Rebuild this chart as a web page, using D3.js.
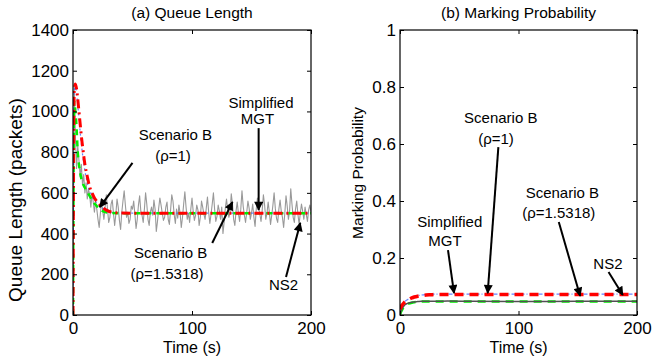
<!DOCTYPE html>
<html>
<head>
<meta charset="utf-8">
<script src="https://cdn.jsdelivr.net/npm/d3@7"></script>
<style>
  html, body { margin: 0; padding: 0; background: #fff; }
  svg { display: block; font-family: "Liberation Sans", Arial, sans-serif; }
</style>
</head>
<body>
<div id="chart"></div>
<script>
// ---- data ----
const modelTime = [0, 1, 2, 3, 4, 5, 6, 7, 8, 10, 12, 14, 16, 18, 20, 22, 25, 28, 32, 40, 60, 100, 150, 200]
const queueRho1 = [0, 1100, 1135, 1110, 1060, 1000, 940, 880, 830, 740, 680, 630, 600, 575, 558, 545, 528, 515, 506, 501, 500, 500, 500, 500]
const queueRho15 = [0, 1050, 1000, 920, 800, 740, 700, 670, 650, 625, 605, 585, 565, 548, 535, 522, 510, 504, 501, 500, 500, 500, 500, 500]
const queueMGT = [0, 1100, 1120, 1090, 1030, 970, 900, 840, 790, 710, 650, 610, 585, 565, 550, 538, 524, 512, 505, 501, 500, 500, 500, 500]

// NS2 queue sampled once per second, t = 0..200
const ns2Queue = [
  0, 1120, 880, 720, 830, 760, 680, 740, 640, 690, 600, 650, 570, 620, 590, 530, 600, 555, 505, 560, 520, 470,
  430, 500, 555, 510, 470, 530, 590, 520, 455, 480,
  545, 565, 500, 440, 495, 570, 530, 465, 420, 505,
  560, 610, 540, 480, 505, 450, 470, 535, 520, 560,
  495, 425, 470, 540, 585, 510, 490, 455, 520, 600,
  545, 470, 440, 505, 530, 490, 565, 520, 410, 460,
  525, 575, 540, 500, 465, 480, 530, 555, 470, 445,
  515, 590, 560, 495, 450, 520, 475, 540, 500, 430,
  480, 545, 605, 530, 470, 500, 455, 520, 575, 510,
  465, 490, 540, 515, 440, 480, 560, 530, 495, 470,
  525, 580, 505, 450, 495, 545, 600, 520, 460, 485,
  540, 510, 470, 530, 400, 455, 525, 570, 515, 480,
  505, 595, 545, 470, 440, 510, 555, 500, 460, 520,
  610, 535, 490, 455, 505, 560, 525, 470, 500, 545,
  480, 435, 520, 575, 530, 495, 460, 515, 590, 540,
  470, 500, 555, 505, 445, 490, 540, 600, 525, 475,
  455, 520, 565, 510, 480, 430, 500, 585, 535, 470,
  510, 620, 545, 480, 455, 520, 560, 495, 445, 500,
  545, 510, 470, 530, 495, 460, 515, 540, 505
]

const probTime = [0, 1, 2, 3, 4, 6, 8, 10, 12, 15, 18, 22, 26, 30, 40, 60, 100, 150, 200]
const probRho1 = [0.02, 0.03, 0.036, 0.041, 0.045, 0.051, 0.056, 0.06, 0.063, 0.066, 0.068, 0.07, 0.071, 0.072, 0.072, 0.072, 0.072, 0.072, 0.072]
const probMGT = [0.022, 0.032, 0.038, 0.043, 0.047, 0.053, 0.058, 0.062, 0.065, 0.068, 0.07, 0.072, 0.073, 0.073, 0.073, 0.073, 0.073, 0.073, 0.073]
const probRho15 = [0, 0.012, 0.02, 0.026, 0.031, 0.037, 0.041, 0.043, 0.045, 0.046, 0.047, 0.047, 0.047, 0.047, 0.047, 0.047, 0.047, 0.047, 0.047]
const probNS2 = [0, 0.015, 0.024, 0.03, 0.035, 0.04, 0.043, 0.045, 0.046, 0.047, 0.048, 0.048, 0.048, 0.048, 0.049, 0.048, 0.047, 0.048, 0.048]

const xTicks = [0, 100, 200]
const queueTicks = [0, 200, 400, 600, 800, 1000, 1200, 1400]
const probTicks = [0, 0.2, 0.4, 0.6, 0.8, 1]

// annotations: text lines at [t, value], arrow from -> to in data units
const queueNotes = [
  { lines: ["Scenario B", "(ρ=1)"], at: [[86, 886], [84, 784]], from: [50, 747], to: [22.5, 530] },
  { lines: ["Simplified", "MGT"], at: [[158, 1045], [155, 966]], from: [156, 918], to: [156, 516] },
  { lines: ["Scenario B", "(ρ=1.5318)"], at: [[82, 307], [79, 204]], from: [117, 354], to: [134, 555] },
  { lines: ["NS2"], at: [[177, 147]], from: [179, 187], to: [191, 452] }
]
const probNotes = [
  { lines: ["Scenario B", "(ρ=1)"], at: [[85, 0.693], [81, 0.619]], from: [83, 0.589], to: [74, 0.077] },
  { lines: ["Simplified", "MGT"], at: [[42, 0.329], [38, 0.26]], from: [40.5, 0.228], to: [45.6, 0.077] },
  { lines: ["Scenario B", "(ρ=1.5318)"], at: [[137, 0.43], [134, 0.359]], from: [134, 0.326], to: [152, 0.067] },
  { lines: ["NS2"], at: [[175.5, 0.182]], from: [176, 0.151], to: [188, 0.07] }
]

// ---- drawing ----
const width = 652
const height = 362

const svg = d3.select("#chart")
  .append("svg")
  .attr("width", width)
  .attr("height", height)

const defs = svg.append("defs")
defs.append("marker")
  .attr("id", "arrowhead")
  .attr("viewBox", "0 0 10 10")
  .attr("refX", 9)
  .attr("refY", 5)
  .attr("markerUnits", "userSpaceOnUse")
  .attr("markerWidth", 11)
  .attr("markerHeight", 9)
  .attr("orient", "auto")
  .append("path")
  .attr("d", "M0,0 L10,5 L0,10 Z")
  .attr("fill", "#000")

function panel(opts) {
  const x = d3.scaleLinear().domain([0, 200]).range([opts.left, opts.right])
  const y = d3.scaleLinear().domain(opts.yDomain).range([315, 30])
  const g = svg.append("g")

  defs.append("clipPath")
    .attr("id", opts.id + "-clip")
    .append("rect")
    .attr("x", opts.left)
    .attr("y", 30)
    .attr("width", opts.right - opts.left)
    .attr("height", 285)

  // series
  const plot = g.append("g").attr("clip-path", `url(#${opts.id}-clip)`)
  for (const s of opts.series) {
    const line = d3.line()
      .x(d => x(d[0]))
      .y(d => y(d[1]))
    if (s.smooth) line.curve(d3.curveMonotoneX)
    plot.append("path")
      .datum(s.values.map((v, i) => [s.time ? s.time[i] : i, v]))
      .attr("fill", "none")
      .attr("stroke", s.color)
      .attr("stroke-width", s.width)
      .attr("stroke-dasharray", s.dash || null)
      .attr("stroke-opacity", s.opacity || 1)
      .attr("stroke-linejoin", "round")
      .attr("d", line)
  }

  // axes (matlab style: inward ticks on all four sides)
  g.append("g")
    .attr("transform", `translate(${opts.left},0)`)
    .call(d3.axisLeft(y).tickValues(opts.yTicks).tickSizeInner(-4).tickSizeOuter(0).tickPadding(4).tickFormat(opts.tickFormat))
  g.append("g")
    .attr("transform", `translate(${opts.right},0)`)
    .call(d3.axisRight(y).tickValues(opts.yTicks).tickSizeInner(-4).tickSizeOuter(0).tickFormat(""))
  g.append("g")
    .attr("transform", "translate(0,315)")
    .call(d3.axisBottom(x).tickValues(xTicks).tickSizeInner(-4).tickSizeOuter(0).tickPadding(7))
  g.append("g")
    .attr("transform", "translate(0,30)")
    .call(d3.axisTop(x).tickValues(xTicks).tickSizeInner(-4).tickSizeOuter(0).tickFormat(""))

  g.selectAll(".domain").remove()
  g.selectAll(".tick line").attr("stroke", "#000")
  g.selectAll(".tick text")
    .attr("fill", "#000")
    .style("font-size", "17px")
    .style("font-family", "Liberation Sans, Arial, sans-serif")

  g.append("rect")
    .attr("x", opts.left)
    .attr("y", 30)
    .attr("width", opts.right - opts.left)
    .attr("height", 285)
    .attr("fill", "none")
    .attr("stroke", "#000")
    .attr("stroke-width", 1.2)

  // titles
  g.append("text")
    .attr("x", (opts.left + opts.right) / 2)
    .attr("y", 18)
    .attr("text-anchor", "middle")
    .style("font-size", "15.5px")
    .text(opts.title)

  g.append("text")
    .attr("x", (opts.left + opts.right) / 2)
    .attr("y", 353)
    .attr("text-anchor", "middle")
    .style("font-size", "16px")
    .text("Time (s)")

  g.append("text")
    .attr("transform", `translate(${opts.yLabelX},${opts.yLabelY}) rotate(-90)`)
    .attr("text-anchor", "middle")
    .style("font-size", opts.yLabelSize)
    .text(opts.yLabel)

  // annotations
  for (const n of opts.notes) {
    n.lines.forEach((txt, i) => {
      g.append("text")
        .attr("x", x(n.at[i][0]))
        .attr("y", y(n.at[i][1]))
        .attr("dy", "0.36em")
        .attr("text-anchor", "middle")
        .style("font-size", "15px")
        .text(txt)
    })
    g.append("line")
      .attr("x1", x(n.from[0]))
      .attr("y1", y(n.from[1]))
      .attr("x2", x(n.to[0]))
      .attr("y2", y(n.to[1]))
      .attr("stroke", "#000")
      .attr("stroke-width", 2)
      .attr("marker-end", "url(#arrowhead)")
  }
}

panel({
  id: "queue",
  left: 73,
  right: 311,
  yDomain: [0, 1400],
  yTicks: queueTicks,
  tickFormat: d3.format("d"),
  title: "(a) Queue Length",
  yLabel: "Queue Length (packets)",
  yLabelX: 22,
  yLabelY: 200,
  yLabelSize: "19px",
  series: [
    { values: ns2Queue, color: "#999", width: 1.1 },
    { values: queueMGT, time: modelTime, smooth: true, color: "#4060ff", width: 1.2, dash: "2,3", opacity: 0.8 },
    { values: queueRho15, time: modelTime, smooth: true, color: "#00ee00", width: 2.5, dash: "6,5" },
    { values: queueRho1, time: modelTime, smooth: true, color: "#ff0000", width: 3, dash: "9,4,2,4" }
  ],
  notes: queueNotes
})

panel({
  id: "prob",
  left: 400,
  right: 637,
  yDomain: [0, 1],
  yTicks: probTicks,
  tickFormat: d => d === 0 || d === 1 ? String(d) : d.toFixed(1),
  title: "(b) Marking Probability",
  yLabel: "Marking Probability",
  yLabelX: 363,
  yLabelY: 173,
  yLabelSize: "15.5px",
  series: [
    { values: probRho15, time: probTime, smooth: true, color: "#00ee00", width: 2.5, dash: "8,6" },
    { values: probNS2, time: probTime, smooth: true, color: "#505050", width: 1.5 },
    { values: probMGT, time: probTime, smooth: true, color: "#4060ff", width: 1.2, dash: "4,2,1,2", opacity: 0.8 },
    { values: probRho1, time: probTime, smooth: true, color: "#ff0000", width: 3.5, dash: "9,6" }
  ],
  notes: probNotes
})
</script>
</body>
</html>
